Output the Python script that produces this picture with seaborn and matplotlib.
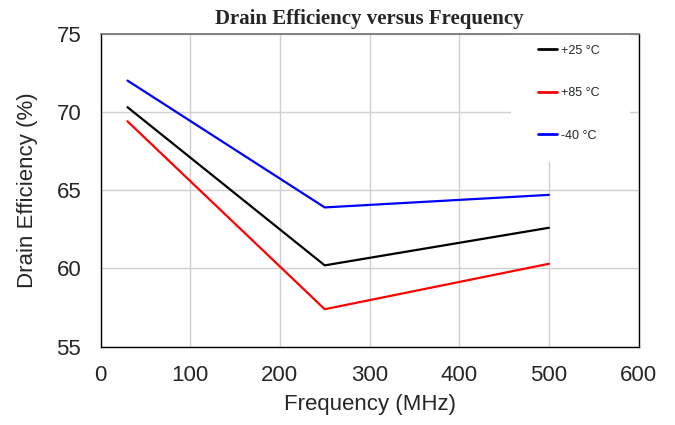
import numpy as np
import pandas as pd
import matplotlib
matplotlib.use('Agg')
import matplotlib.pyplot as plt
from matplotlib.patches import Rectangle
import seaborn as sns

# Datos
frecuencia = [30, 250, 500]
eff_25 = [70.3, 60.2, 62.6]
eff_85 = [69.4, 57.4, 60.3]
eff_m40 = [72.0, 63.9, 64.7]
etiquetas = ['+25 °C', '+85 °C', '-40 °C']
colores = ['black', 'red', 'blue']

df = pd.DataFrame({
    'Frecuencia': frecuencia * 3,
    'Eficiencia': eff_25 + eff_85 + eff_m40,
    'Temp': [etiquetas[0]] * 3 + [etiquetas[1]] * 3 + [etiquetas[2]] * 3,
})

sns.set_style('white')
plt.rcParams['font.family'] = ['Liberation Sans', 'DejaVu Sans']

fig = plt.figure(figsize=(6.75, 4.25), dpi=100)
ax = fig.add_axes([0.149, 0.184, 0.797, 0.737])

sns.lineplot(data=df, x='Frecuencia', y='Eficiencia', hue='Temp',
             palette=dict(zip(etiquetas, colores)), hue_order=etiquetas,
             linewidth=1.6, ax=ax)

ax.set_xlim(0, 600)
ax.set_ylim(55, 75)
ax.set_xticks(np.arange(0, 601, 100))
ax.set_yticks(np.arange(55, 76, 5))
ax.grid(True, color='#d0d0d0', linewidth=1)
ax.set_axisbelow(True)
ax.tick_params(axis='both', labelsize=16, length=0)
ax.tick_params(axis='y', pad=14)
ax.tick_params(axis='x', pad=13)
for lado in ['left', 'bottom', 'right']:
    ax.spines[lado].set_color('black')
    ax.spines[lado].set_linewidth(1)
ax.spines['top'].set_color('#707070')
ax.spines['top'].set_linewidth(1.2)

ax.set_xlabel('Frequency (MHz)', fontsize=16, labelpad=6)
ax.set_ylabel('Drain Efficiency (%)', fontsize=16, labelpad=13)
ax.set_title('Drain Efficiency versus Frequency', fontsize=15, fontweight='bold',
             family=['Liberation Serif', 'DejaVu Serif'], pad=7)

# fondo blanco de la leyenda, tapa la rejilla
ax.add_patch(Rectangle((0.762, 0.59), 0.223, 0.41, transform=ax.transAxes,
                       facecolor='white', edgecolor='none', zorder=1.5))

leg = ax.legend(loc='upper left', bbox_to_anchor=(0.814, 0.965), fontsize=9,
                frameon=False, handlelength=1.45, handletextpad=0.35,
                labelspacing=2.45, borderpad=0.0, borderaxespad=0.0)
for linea in leg.get_lines():
    linea.set_linewidth(2)

fig.savefig('out.png', dpi=100)
